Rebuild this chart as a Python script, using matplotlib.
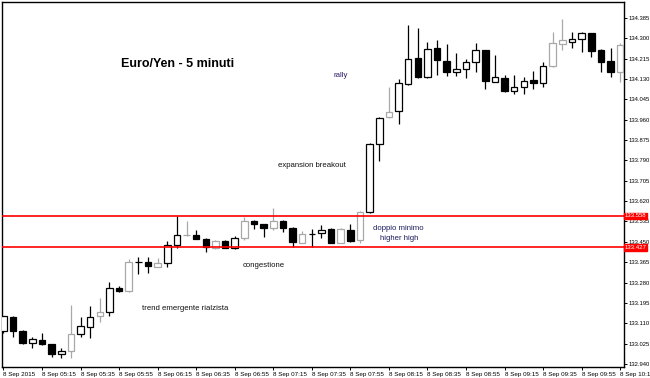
import matplotlib.pyplot as plt
import numpy as np

# 5 minute bars, 8 Sep 2015 04:55 -> 10:15
opens = [133.078, 133.136, 133.078, 133.027, 133.040, 133.023, 132.981, 132.994, 133.065, 133.094,
         133.140, 133.157, 133.257, 133.244, 133.366, 133.366, 133.345, 133.362, 133.437, 133.478,
         133.478, 133.462, 133.424, 133.453, 133.424, 133.466, 133.537, 133.524, 133.508, 133.537,
         133.508, 133.445, 133.483, 133.487, 133.504, 133.445, 133.499, 133.458, 133.575, 133.859,
         133.971, 133.996, 134.109, 134.218, 134.138, 134.260, 134.205, 134.159, 134.172, 134.201,
         134.251, 134.118, 134.134, 134.080, 134.097, 134.126, 134.113, 134.184, 134.276, 134.285,
         134.297, 134.322, 134.251, 134.205, 134.159]
highs = [133.142, 133.140, 133.082, 133.052, 133.069, 133.025, 133.006, 133.186, 133.136, 133.182,
         133.215, 133.282, 133.265, 133.378, 133.387, 133.387, 133.382, 133.453, 133.558, 133.537,
         133.499, 133.464, 133.458, 133.458, 133.474, 133.554, 133.541, 133.526, 133.591, 133.541,
         133.510, 133.495, 133.504, 133.520, 133.508, 133.508, 133.524, 133.579, 133.863, 133.971,
         134.097, 134.130, 134.356, 134.343, 134.285, 134.293, 134.276, 134.239, 134.214, 134.281,
         134.253, 134.230, 134.147, 134.147, 134.138, 134.163, 134.201, 134.326, 134.381, 134.326,
         134.326, 134.324, 134.255, 134.260, 134.281]
lows = [133.069, 133.052, 133.023, 133.006, 133.021, 132.969, 132.965, 132.965, 133.052, 133.048,
        133.115, 133.140, 133.242, 133.242, 133.316, 133.320, 133.343, 133.345, 133.424, 133.474,
        133.460, 133.407, 133.420, 133.424, 133.420, 133.458, 133.504, 133.470, 133.499, 133.491,
        133.428, 133.443, 133.428, 133.466, 133.443, 133.443, 133.449, 133.445, 133.570, 133.788,
        133.967, 133.942, 134.105, 134.134, 134.136, 134.147, 134.143, 134.143, 134.134, 134.159,
        134.088, 134.116, 134.078, 134.067, 134.067, 134.088, 134.097, 134.182, 134.251, 134.260,
        134.243, 134.222, 134.159, 134.138, 134.118]
closes = [133.140, 133.078, 133.027, 133.044, 133.023, 132.981, 132.994, 133.065, 133.098, 133.136,
          133.157, 133.257, 133.244, 133.366, 133.364, 133.349, 133.362, 133.437, 133.478, 133.480,
          133.462, 133.428, 133.453, 133.424, 133.466, 133.537, 133.524, 133.508, 133.537, 133.508,
          133.449, 133.483, 133.483, 133.499, 133.445, 133.504, 133.453, 133.575, 133.859, 133.967,
          133.992, 134.113, 134.214, 134.138, 134.255, 134.209, 134.159, 134.172, 134.201, 134.251,
          134.122, 134.138, 134.080, 134.097, 134.122, 134.113, 134.184, 134.281, 134.293, 134.297,
          134.322, 134.247, 134.201, 134.159, 134.272]
gray_bars = [7, 10, 13, 16, 19, 22, 25, 28, 31, 35, 37, 40, 57, 58, 64]

time_labels = ['8 Sep 2015', '8 Sep 05:15', '8 Sep 05:35', '8 Sep 05:55', '8 Sep 06:15',
               '8 Sep 06:35', '8 Sep 06:55', '8 Sep 07:15', '8 Sep 07:35', '8 Sep 07:55',
               '8 Sep 08:15', '8 Sep 08:35', '8 Sep 08:55', '8 Sep 09:15', '8 Sep 09:35',
               '8 Sep 09:55', '8 Sep 10:15']
price_ticks = [132.940, 133.025, 133.110, 133.195, 133.280, 133.365, 133.450, 133.535, 133.620,
               133.705, 133.790, 133.875, 133.960, 134.045, 134.130, 134.215, 134.300, 134.385]
levels = [133.558, 133.427]

notes = [('rally', 35.0, 134.143, '#2b1b6b'),
         ('expansion breakout', 32.05, 133.767, '#111111'),
         ('doppio minimo', 41.0, 133.504, '#1c1c5c'),
         ('higher high', 41.1, 133.462, '#1c1c5c'),
         ('congestione', 27.0, 133.353, '#111111'),
         ('trend emergente rialzista', 18.9, 133.170, '#111111')]

plt.rcParams['font.family'] = ['Liberation Sans', 'DejaVu Sans']

fig = plt.figure(figsize=(6.5, 3.78), dpi=100)
ax = fig.add_axes([2/650, 11/378, 622/650, 365/378])

o = np.array(opens); h = np.array(highs); l = np.array(lows); c = np.array(closes)
x = np.arange(len(o))
edge = ['#a8a8a8' if i in gray_bars else 'black' for i in x]
face = ['white' if c[i] >= o[i] else 'black' for i in x]

ax.vlines(x, l, h, colors=edge, lw=0.9, zorder=2)
body = np.maximum(np.abs(c - o), 0.0015)
ax.bar(x, body, bottom=np.minimum(o, c), width=0.68, color=face, edgecolor=edge, lw=0.9, zorder=3)

for lv in levels:
    ax.axhline(lv, color='red', lw=1.2, zorder=4)
    ax.text(1.001, lv, '%.3f' % lv, transform=ax.get_yaxis_transform(), color='white', fontsize=4.3,
            va='center', ha='left', clip_on=False,
            bbox=dict(boxstyle='square,pad=0.15', fc='red', ec='red'))

ax.text(18.05, 134.193, 'Euro/Yen - 5 minuti', fontsize=9, fontweight='bold', ha='center', va='center')
for txt, tx, ty, col in notes:
    ax.text(tx, ty, txt, fontsize=5.6, color=col, ha='center', va='center')

ax.set_xlim(-0.15, 64.4)
ax.set_ylim(132.927, 134.452)

ax.set_xticks(x[::4])
ax.set_xticklabels(time_labels, fontsize=4.5, ha='left')
ax.yaxis.tick_right()
ax.set_yticks(price_ticks)
ax.set_yticklabels(['%.3f' % p for p in price_ticks], fontsize=4.2)
ax.tick_params(axis='both', length=2.5, width=0.7, pad=1, colors='black')
for s in ax.spines.values():
    s.set_linewidth(1.0)

fig.savefig('out.png', dpi=100)
